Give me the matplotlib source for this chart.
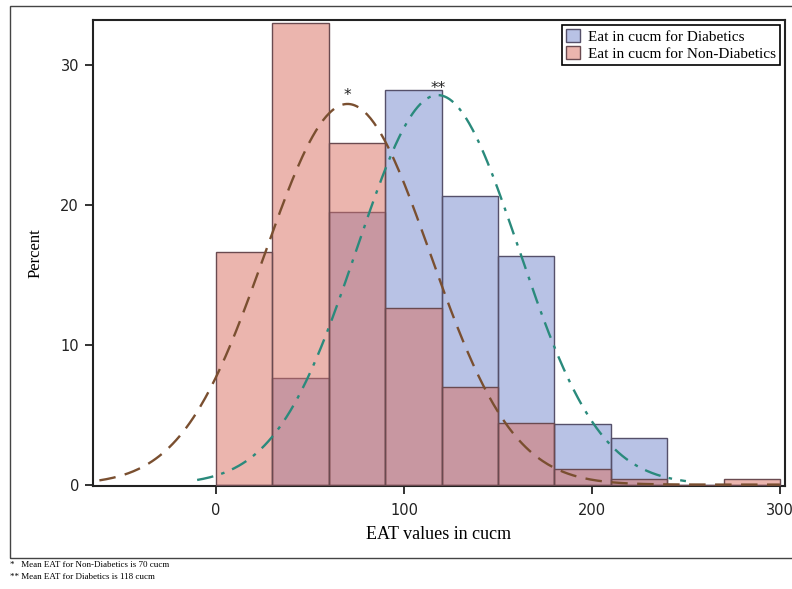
import numpy as np
import matplotlib
matplotlib.use("Agg")
import matplotlib.pyplot as plt
from matplotlib.patches import Rectangle

# ---- data ----
bin_edges = [0, 30, 60, 90, 120, 150, 180, 210, 240, 270, 300]
pct_diabetic = [0.0, 7.6, 19.5, 28.2, 20.6, 16.3, 4.3, 3.3, 0.0, 0.0]
pct_nondiabetic = [16.6, 33.0, 24.4, 12.6, 7.0, 4.4, 1.1, 0.4, 0.0, 0.4]
mean_nondiabetic, sd_nondiabetic = 70, 44.0
mean_diabetic, sd_diabetic = 118, 43.0
curve_range_nondiabetic = (-62, 300)
curve_range_diabetic = (-10, 250)
xticks = [0, 100, 200, 300]
yticks = [0, 10, 20, 30]
legend_labels = ["Eat in cucm for Diabetics", "Eat in cucm for Non-Diabetics"]
footnotes = ["*   Mean EAT for Non-Diabetics is 70 cucm",
             "** Mean EAT for Diabetics is 118 cucm"]

serif = "Liberation Serif"
sans = "DejaVu Sans"

fig = plt.figure(figsize=(7.92, 5.89), dpi=100)
W, H = 792, 589
ax = fig.add_axes([93 / W, 1 - 486 / H, (785 - 93) / W, (486 - 20) / H])

# outer frame
fig.patches.append(Rectangle((10 / W, 1 - 558 / H), 1.2, (558 - 6) / H,
                             transform=fig.transFigure, fill=False,
                             edgecolor="#444444", linewidth=1.0))

edges = np.array(bin_edges)
widths = np.diff(edges)
blue_face = (115 / 255, 135 / 255, 205 / 255, 0.5)
red_face = (217 / 255, 109 / 255, 95 / 255, 0.5)

ax.bar(edges[:-1], pct_diabetic, width=widths, align="edge", color=blue_face,
       edgecolor="#55506a", linewidth=1.0, label=legend_labels[0], zorder=2)
ax.bar(edges[:-1], pct_nondiabetic, width=widths, align="edge", color=red_face,
       edgecolor="#6a4a50", linewidth=1.0, label=legend_labels[1], zorder=3)

binw = widths[0]


def normal_pct(x, m, s):
    return 100 * binw * np.exp(-0.5 * ((x - m) / s) ** 2) / (s * np.sqrt(2 * np.pi))


xr = np.linspace(*curve_range_nondiabetic, 400)
ax.plot(xr, normal_pct(xr, mean_nondiabetic, sd_nondiabetic), color="#7a4f30",
        linewidth=1.7, dashes=(7, 4), zorder=4)
xb = np.linspace(*curve_range_diabetic, 400)
ax.plot(xb, normal_pct(xb, mean_diabetic, sd_diabetic), color="#2a8a7c",
        linewidth=1.7, dashes=(7, 3.5, 1.5, 3.5), zorder=4)

ax.text(mean_nondiabetic, normal_pct(mean_nondiabetic, mean_nondiabetic, sd_nondiabetic) + 0.05,
        "*", ha="center", va="bottom", fontsize=11, color="#222222", zorder=5)
ax.text(mean_diabetic, normal_pct(mean_diabetic, mean_diabetic, sd_diabetic) - 0.05,
        "**", ha="center", va="bottom", fontsize=11, color="#222222", zorder=5)

ax.set_xlim(-65.4, 302.7)
ax.set_ylim(-0.1, 33.2)
ax.set_xticks(xticks)
ax.set_yticks(yticks)
ax.tick_params(direction="out", length=6, width=1.3, labelsize=10.5, colors="#222222", pad=4)
for lab in ax.get_xticklabels() + ax.get_yticklabels():
    lab.set_family(sans)
ax.tick_params(axis="x", pad=6)
for sp in ax.spines.values():
    sp.set_linewidth(1.5)
    sp.set_color("#222222")

ax.set_xlabel("EAT values in cucm", fontsize=13, family=serif, labelpad=6)
ax.set_ylabel("Percent", fontsize=12, family=serif, labelpad=12)

leg = ax.legend(loc="upper right", bbox_to_anchor=(1.0, 1.0), fancybox=False,
                edgecolor="black", framealpha=1, prop={"family": serif, "size": 11},
                handlelength=0.9, handleheight=0.9, handletextpad=0.5,
                borderpad=0.3, labelspacing=0.15, borderaxespad=0.3)
leg.get_frame().set_linewidth(1.2)

fig.text(10 / W, 1 - 565 / H, footnotes[0], fontsize=6.5, family=serif, va="center")
fig.text(10 / W, 1 - 577 / H, footnotes[1], fontsize=6.5, family=serif, va="center")

fig.savefig("out.png", dpi=100)
